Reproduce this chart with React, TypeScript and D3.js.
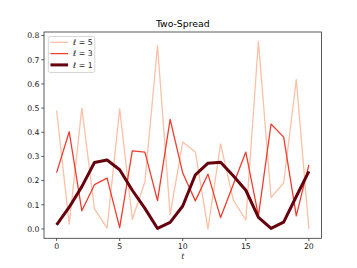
import React from "react";
import * as d3 from "d3";

const tValues = d3.range(0, 21);
const series5 = [0.49, 0.02, 0.5, 0.083, 0.003, 0.497, 0.04, 0.194, 0.758, 0.058, 0.36, 0.318, 0.0, 0.352, 0.12, 0.037, 0.776, 0.13, 0.19, 0.618, 0.0];
const series3 = [0.233, 0.402, 0.075, 0.183, 0.21, 0.005, 0.323, 0.318, 0.117, 0.453, 0.231, 0.116, 0.227, 0.047, 0.183, 0.318, 0.054, 0.434, 0.38, 0.054, 0.265];
const series1 = [0.017, 0.09, 0.175, 0.275, 0.285, 0.245, 0.16, 0.085, 0.002, 0.027, 0.095, 0.224, 0.272, 0.276, 0.22, 0.16, 0.048, 0.002, 0.028, 0.134, 0.238];
const xTicks = [0, 5, 10, 15, 20];
const yTicks = [0.0, 0.1, 0.2, 0.3, 0.4, 0.5, 0.6, 0.7, 0.8];
const seriesList = [
  { label: "5", values: series5, color: "#fcc0a6", width: 1.3 },
  { label: "3", values: series3, color: "#f03e2e", width: 1.3 },
  { label: "1", values: series1, color: "#67000d", width: 3 },
];

export default function App() {
  const W = 357, H = 268;
  const left = 44, right = 321.5, top = 32, bottom = 238.3;
  const x = d3.scaleLinear().domain([-1, 21]).range([left, right]);
  const y = d3.scaleLinear().domain([-0.0388, 0.8148]).range([bottom, top]);
  const line = d3.line<number>().x((_, i) => x(tValues[i])).y((d) => y(d));
  const font = "DejaVu Sans, sans-serif";
  return (
    <svg width={W} height={H} style={{ position: "absolute", left: 0, top: 0 }}>
      <rect x={0} y={0} width={W} height={H} fill="white" />
      <text x={(left + right) / 2} y={27} textAnchor="middle" fontFamily={font} fontSize={9.3} fill="#000">Two-Spread</text>
      <g>
        {seriesList.map((s) => (
          <path key={s.label} d={line(s.values) || ""} fill="none" stroke={s.color} strokeWidth={s.width} strokeLinejoin="round" />
        ))}
      </g>
      <rect x={left} y={top} width={right - left} height={bottom - top} fill="none" stroke="#333" strokeWidth={0.8} />
      {xTicks.map((t) => (
        <g key={t}>
          <line x1={x(t)} x2={x(t)} y1={bottom} y2={bottom + 2.7} stroke="#333" strokeWidth={0.8} />
          <text x={x(t)} y={bottom + 11} textAnchor="middle" fontFamily={font} fontSize={7.75} fill="#222">{t}</text>
        </g>
      ))}
      {yTicks.map((t) => (
        <g key={t}>
          <line x1={left - 2.7} x2={left} y1={y(t)} y2={y(t)} stroke="#333" strokeWidth={0.8} />
          <text x={left - 4.5} y={y(t) + 2.8} textAnchor="end" fontFamily={font} fontSize={7.75} fill="#222">{t.toFixed(1)}</text>
        </g>
      ))}
      <text x={(left + right) / 2} y={259} textAnchor="middle" fontFamily={font} fontStyle="italic" fontSize={7.75} fill="#222">t</text>
      <g>
        <rect x={48.3} y={36.5} width={46.5} height={36} fill="white" fillOpacity={0.8} stroke="#ccc" strokeWidth={0.8} rx={2} />
        {seriesList.map((s, i) => (
          <g key={s.label}>
            <line x1={50.5} x2={68} y1={42.3 + i * 11.3} y2={42.3 + i * 11.3} stroke={s.color} strokeWidth={s.width} />
            <text x={73} y={45 + i * 11.3} fontFamily={font} fontSize={7.75} fill="#222">
              <tspan fontStyle="italic">ℓ</tspan>
              <tspan> = {s.label}</tspan>
            </text>
          </g>
        ))}
      </g>
    </svg>
  );
}
